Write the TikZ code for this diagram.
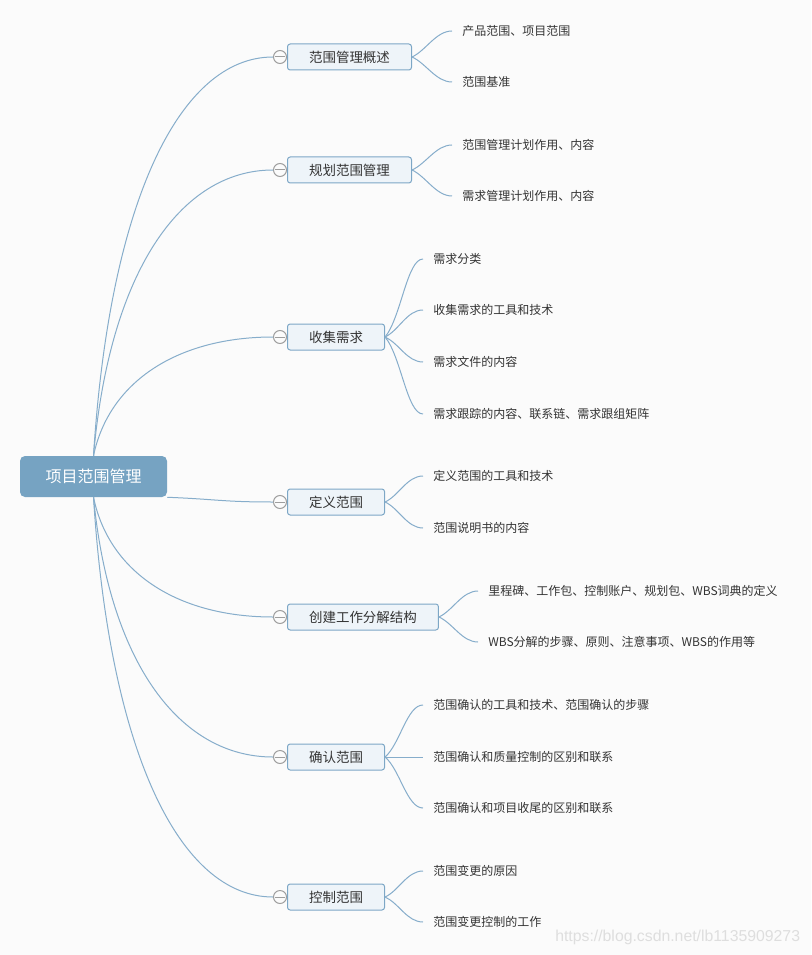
\documentclass[tikz,border=0pt]{standalone}
\usepackage{fontspec}
\setmainfont{Noto Sans CJK SC}
\newfontfamily\wmfont{Liberation Sans}
\usetikzlibrary{positioning}
\definecolor{bgcol}{RGB}{251,251,251}
\definecolor{rootfill}{RGB}{118,163,194}
\definecolor{topicfill}{RGB}{238,244,249}
\definecolor{topicline}{RGB}{125,167,198}
\definecolor{linkcol}{RGB}{134,173,203}
\definecolor{foldcol}{RGB}{158,158,158}
\definecolor{textcol}{RGB}{51,51,51}
\definecolor{wmcol}{RGB}{222,222,222}
\tikzset{
  rootbox/.style={fill=rootfill, rounded corners=3.75pt, minimum width=110.25pt,
    minimum height=30.75pt, inner sep=0pt, text=white, font=\fontsize{12}{14}\selectfont},
  topicbox/.style={draw=topicline, fill=topicfill, rounded corners=2pt, line width=0.75pt,
    minimum height=19.5pt, inner xsep=16.2pt, inner ysep=0pt, anchor=west,
    text=textcol, font=\fontsize{10.1}{12}\selectfont},
  foldmark/.style={circle, draw=foldcol, fill=bgcol, line width=0.75pt, minimum size=9.75pt,
    inner sep=0pt, path picture={\draw[foldcol, line width=0.75pt]
      ([xshift=-3.6pt]path picture bounding box.center) -- ([xshift=3.6pt]path picture bounding box.center);}},
  leaftext/.style={anchor=west, inner xsep=7.5pt, inner ysep=1pt, text=textcol,
    font=\fontsize{9}{11}\selectfont},
  link/.style={draw=linkcol, line width=0.75pt}
}
\begin{document}
\begin{tikzpicture}[x=0.75pt, y=-0.75pt]
  \fill[bgcol] (0,0) rectangle (811,955);
  \node[rootbox] (r) at (93.5,476.5) {项目范围管理};

  %% topics
  \node[topicbox] (b1) at (287,57) {范围管理概述};
  \node[topicbox] (b2) at (287,170) {规划范围管理};
  \node[topicbox] (b3) at (287,337) {收集需求};
  \node[topicbox] (b4) at (287,502) {定义范围};
  \node[topicbox] (b5) at (287,617) {创建工作分解结构};
  \node[topicbox] (b6) at (287,757) {确认范围};
  \node[topicbox] (b7) at (287,897) {控制范围};

  \node[foldmark, left=0pt of b1] (c1) {};
  \node[foldmark, left=0pt of b2] (c2) {};
  \node[foldmark, left=0pt of b3] (c3) {};
  \node[foldmark, left=0pt of b4] (c4) {};
  \node[foldmark, left=0pt of b5] (c5) {};
  \node[foldmark, left=0pt of b6] (c6) {};
  \node[foldmark, left=0pt of b7] (c7) {};

  %% root to topics
  \draw[link] (r.north) .. controls +(16,-255) and +(-93,0) .. (c1.west);
  \draw[link] (r.north) .. controls +(16,-183) and +(-93,0) .. (c2.west);
  \draw[link] (r.north) .. controls +(16,-76) and +(-93,0) .. (c3.west);
  \draw[link] (r.south east) .. controls +(50,2) and +(-50,0) .. (c4.west);
  \draw[link] (r.south) .. controls +(16,77) and +(-93,0) .. (c5.west);
  \draw[link] (r.south) .. controls +(16,166) and +(-93,0) .. (c6.west);
  \draw[link] (r.south) .. controls +(16,256) and +(-93,0) .. (c7.west);

  %% leaves 1
  \node[leaftext] (l11) at (452,31) {产品范围、项目范围};
  \node[leaftext] (l12) at (452,82) {范围基准};
  \draw[link] (b1.east) .. controls +(14,-6.5) and +(-16,0) .. (l11.west);
  \draw[link] (b1.east) .. controls +(14,6.25) and +(-16,0) .. (l12.west);

  %% leaves 2
  \node[leaftext] (l21) at (452,145) {范围管理计划作用、内容};
  \node[leaftext] (l22) at (452,196) {需求管理计划作用、内容};
  \draw[link] (b2.east) .. controls +(14,-6.25) and +(-16,0) .. (l21.west);
  \draw[link] (b2.east) .. controls +(14,6.5) and +(-16,0) .. (l22.west);

  %% leaves 3
  \node[leaftext] (l31) at (423,259) {需求分类};
  \node[leaftext] (l32) at (423,310) {收集需求的工具和技术};
  \node[leaftext] (l33) at (423,362) {需求文件的内容};
  \node[leaftext] (l34) at (423,414) {需求跟踪的内容、联系链、需求跟组矩阵};
  \draw[link] (b3.east) .. controls +(16,-19.5) and +(-16,0) .. (l31.west);
  \draw[link] (b3.east) .. controls +(14,-6.75) and +(-16,0) .. (l32.west);
  \draw[link] (b3.east) .. controls +(14,6.25) and +(-16,0) .. (l33.west);
  \draw[link] (b3.east) .. controls +(16,19.25) and +(-16,0) .. (l34.west);

  %% leaves 4
  \node[leaftext] (l41) at (423,476) {定义范围的工具和技术};
  \node[leaftext] (l42) at (423,528) {范围说明书的内容};
  \draw[link] (b4.east) .. controls +(14,-6.5) and +(-16,0) .. (l41.west);
  \draw[link] (b4.east) .. controls +(14,6.5) and +(-16,0) .. (l42.west);

  %% leaves 5
  \node[leaftext] (l51) at (478,591) {里程碑、工作包、控制账户、规划包、WBS词典的定义};
  \node[leaftext] (l52) at (478,642) {WBS分解的步骤、原则、注意事项、WBS的作用等};
  \draw[link] (b5.east) .. controls +(14,-6.5) and +(-16,0) .. (l51.west);
  \draw[link] (b5.east) .. controls +(14,6.25) and +(-16,0) .. (l52.west);

  %% leaves 6
  \node[leaftext] (l61) at (423,705) {范围确认的工具和技术、范围确认的步骤};
  \node[leaftext] (l62) at (423,757) {范围确认和质量控制的区别和联系};
  \node[leaftext] (l63) at (423,808) {范围确认和项目收尾的区别和联系};
  \draw[link] (b6.east) .. controls +(15,-13) and +(-16,0) .. (l61.west);
  \draw[link] (b6.east) -- (l62.west);
  \draw[link] (b6.east) .. controls +(15,12.75) and +(-16,0) .. (l63.west);

  %% leaves 7
  \node[leaftext] (l71) at (423,871) {范围变更的原因};
  \node[leaftext] (l72) at (423,922) {范围变更控制的工作};
  \draw[link] (b7.east) .. controls +(14,-6.5) and +(-16,0) .. (l71.west);
  \draw[link] (b7.east) .. controls +(14,6.25) and +(-16,0) .. (l72.west);

  \node[anchor=west, inner sep=0pt, text=wmcol, font=\wmfont\fontsize{11.85}{14}\selectfont] (wm) at (555,937) {https://blog.csdn.net/lb1135909273};
\end{tikzpicture}
\end{document}
